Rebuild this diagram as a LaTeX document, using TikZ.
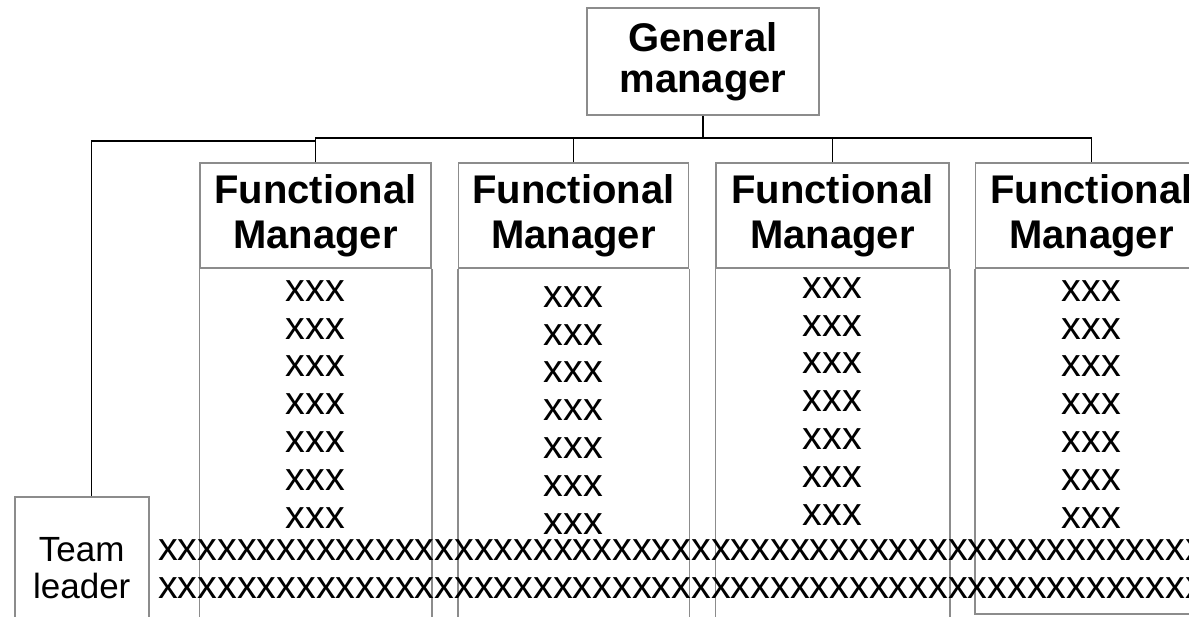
\documentclass[tikz,border=0pt]{standalone}
\usepackage{fontspec}
\setmainfont{Liberation Sans}
\usetikzlibrary{positioning}
\definecolor{boxgray}{RGB}{140,140,140}
\tikzset{
  box/.style={draw=boxgray, line width=1.5pt, fill=white, inner sep=0pt, align=center},
  title/.style={font=\fontsize{40}{45}\selectfont\bfseries},
  link/.style={draw=black, line width=1.2pt},
  colline/.style={draw=boxgray, line width=1.5pt},
  entry/.style={font=\fontsize{39.5}{37.8}\selectfont, align=center, inner sep=0pt},
}

\begin{document}
\begin{tikzpicture}[x=1pt,y=-1pt]
\clip (0,0) rectangle (1189,616);
\fill[white] (0,0) rectangle (1189,616);

\node[box, font=\fontsize{40}{41}\selectfont\bfseries, minimum width=232pt, minimum height=107pt] (gm) at (703,61.5) {General\\manager};

\node[box, title, minimum width=231pt, minimum height=105pt] (fm1) at (315.5,215.5) {Functional\\Manager};
\node[box, title, minimum width=230pt, minimum height=105pt, right=26pt of fm1] (fm2) {Functional\\Manager};
\node[box, title, minimum width=233pt, minimum height=105pt, right=26pt of fm2] (fm3) {Functional\\Manager};
\node[box, title, minimum width=232pt, minimum height=105pt, right=25pt of fm3] (fm4) {Functional\\Manager};

\coordinate (floor) at (0,620);
\coordinate (floor4) at (0,614);
\foreach \i in {1,2,3}{
  \draw[colline] (fm\i.south west) -- (fm\i.south west |- floor);
  \draw[colline] (fm\i.south east) -- (fm\i.south east |- floor);
}
\draw[colline] (fm4.south west) |- (fm4.south east |- floor4) -- (fm4.south east);

\foreach \i/\dy in {1/0,2/6,3/-3,4/0}{
  \node[entry] (list\i) at ([yshift=-135.5pt-\dy pt]fm\i.south) {xxx\\xxx\\xxx\\xxx\\xxx\\xxx\\xxx};
}

\node[box, font=\fontsize{35}{37}\selectfont, anchor=north west, minimum width=134pt, minimum height=142pt] (tl) at (14,496) {Team\\leader};

\node[entry, anchor=base west] (row1) at (158,560) {xxxxxxxxxxxxxxxxxxxxxxxxxxxxxxxxxxxxxxxxxxxxxxxxxxxxxxxxxxxx};
\node[entry, anchor=base west] (row2) at (158,598) {xxxxxxxxxxxxxxxxxxxxxxxxxxxxxxxxxxxxxxxxxxxxxxxxxxxxxxxxxxxx};

\coordinate (bus) at (703,138);
\coordinate (kink) at (314,141);
\draw[link] (gm) -- (bus);
\draw[link] (fm1.north) -- (fm1.north |- bus) -- (fm4.north |- bus) -- (fm4.north);
\draw[link] (fm2.north) -- (fm2.north |- bus);
\draw[link] (fm3.north) -- (fm3.north |- bus);
\draw[link] ([xshift=10pt]tl.north) |- (fm1.north |- kink);
\end{tikzpicture}
\end{document}
